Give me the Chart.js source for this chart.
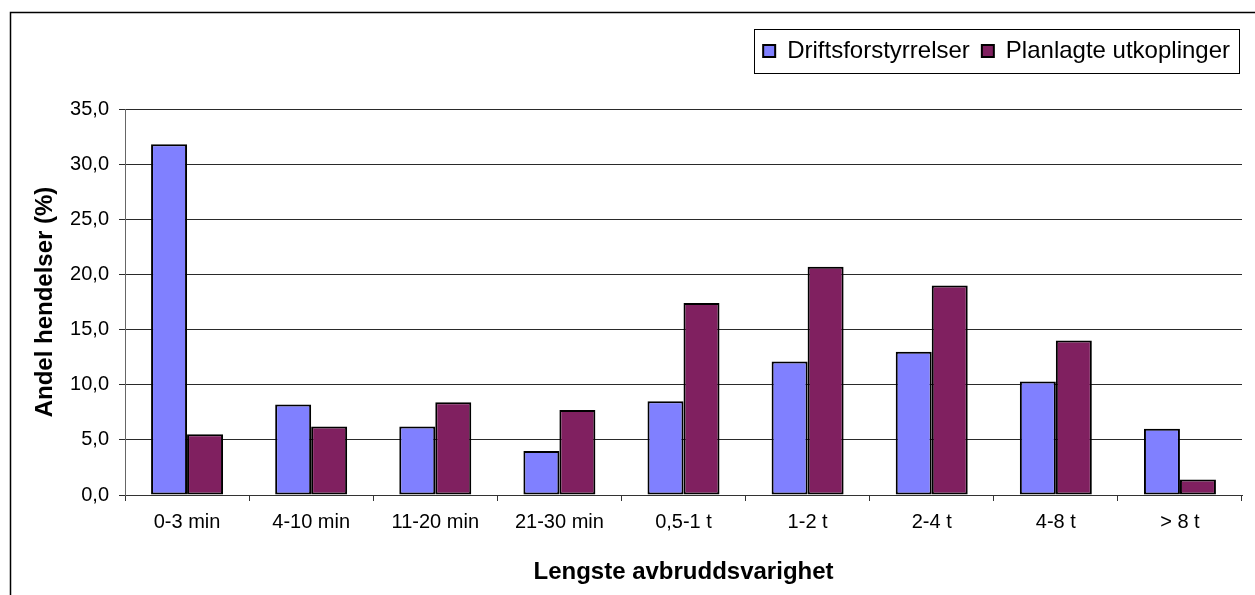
<!DOCTYPE html>
<html>
<head>
<meta charset="utf-8">
<script src="https://cdn.jsdelivr.net/npm/chart.js@4.4.1/dist/chart.umd.min.js"></script>
<style>
  html, body { margin: 0; padding: 0; background: #ffffff; }
  #wrap { width: 1255px; height: 595px; position: relative; }
</style>
</head>
<body>
<div id="wrap"><canvas id="c" width="1255" height="595"></canvas></div>
<script>
// ---- data ----
const categories = ['0-3 min', '4-10 min', '11-20 min', '21-30 min', '0,5-1 t', '1-2 t', '2-4 t', '4-8 t', '> 8 t'];
const driftsforstyrrelser = [31.8, 8.2, 6.2, 4.0, 8.5, 12.1, 13.0, 10.3, 6.0];
const planlagteUtkoplinger = [5.5, 6.2, 8.4, 7.7, 17.4, 20.7, 19.0, 14.0, 1.4];
const seriesNames = ['Driftsforstyrrelser', 'Planlagte utkoplinger'];
const yTickValues = [0, 5, 10, 15, 20, 25, 30, 35];
const xAxisTitle = 'Lengste avbruddsvarighet';
const yAxisTitle = 'Andel hendelser (%)';

const FONT = "'Liberation Sans', Arial, Helvetica, sans-serif";

// outer frame + white background + legend border
const framePlugin = {
  id: 'framePlugin',
  beforeLayout(chart) {
    const lg = chart.legend;
    if (lg && !lg._spacerPatched) {
      const origFit = lg.fit;
      lg.fit = function () {
        origFit.call(this);
        this.height += 36;
      };
      lg._spacerPatched = true;
    }
  },
  beforeDraw(chart) {
    const ctx = chart.ctx;
    ctx.save();
    ctx.fillStyle = '#ffffff';
    ctx.fillRect(0, 0, chart.width, chart.height);
    ctx.strokeStyle = '#000000';
    ctx.lineWidth = 1.5;
    ctx.strokeRect(10.5, 12.5, chart.width + 50, chart.height + 50);
    ctx.restore();
  },
  afterDraw(chart) {
    const lg = chart.legend;
    if (!lg || !lg.legendHitBoxes || !lg.legendHitBoxes.length) return;
    const hb = lg.legendHitBoxes;
    const first = hb[0], last = hb[hb.length - 1];
    const left = Math.round(first.left - 9) + 0.5;
    const right = Math.round(last.left + last.width + 9) + 0.5;
    const top = Math.round(first.top - 10) + 0.5;
    const bottom = Math.round(first.top + first.height + 10) + 0.5;
    const ctx = chart.ctx;
    ctx.save();
    ctx.strokeStyle = '#000000';
    ctx.lineWidth = 1;
    ctx.strokeRect(left, top, right - left, bottom - top);
    ctx.restore();
  }
};

new Chart(document.getElementById('c'), {
  type: 'bar',
  data: {
    labels: categories,
    datasets: [
      {
        label: seriesNames[0],
        data: driftsforstyrrelser,
        backgroundColor: '#8080FF',
        borderColor: '#000000',
        borderWidth: 2,
        borderSkipped: false
      },
      {
        label: seriesNames[1],
        data: planlagteUtkoplinger,
        backgroundColor: '#802060',
        borderColor: '#000000',
        borderWidth: 2,
        borderSkipped: false
      }
    ]
  },
  options: {
    responsive: false,
    animation: false,
    devicePixelRatio: 1,
    categoryPercentage: 0.58,
    barPercentage: 1.0,
    layout: { padding: { left: 20, right: 13, top: 27, bottom: 0 } },
    plugins: {
      legend: {
        display: true,
        position: 'top',
        align: 'end',
        labels: {
          boxWidth: 12,
          boxHeight: 12,
          padding: 12,
          color: '#000000',
          font: { family: FONT, size: 24 }
        }
      },
      title: { display: false },
      tooltip: { enabled: false }
    },
    scales: {
      x: {
        grid: {
          display: true,
          drawOnChartArea: false,
          drawTicks: true,
          tickLength: 6,
          color: '#333333',
          offset: true
        },
        border: { display: true, color: '#333333', width: 1 },
        ticks: {
          color: '#000000',
          padding: 9,
          maxRotation: 0,
          autoSkip: false,
          font: { family: FONT, size: 20 }
        },
        title: {
          display: true,
          text: xAxisTitle,
          color: '#000000',
          font: { family: FONT, size: 24, weight: 'bold' },
          padding: { top: 0, bottom: 8 }
        },
        afterFit(scale) { scale.height = 100; }
      },
      y: {
        min: 0,
        max: 35,
        afterBuildTicks(scale) {
          scale.ticks = yTickValues.map(v => ({ value: v }));
        },
        grid: {
          display: true,
          drawOnChartArea: true,
          drawTicks: true,
          tickLength: 6,
          color: '#2a2a2a',
          lineWidth: 1
        },
        border: { display: true, color: '#666666', width: 1 },
        ticks: {
          color: '#000000',
          padding: 10,
          font: { family: FONT, size: 20 },
          callback: (v) => Number(v).toFixed(1).replace('.', ',')
        },
        title: {
          display: true,
          text: yAxisTitle,
          color: '#000000',
          font: { family: FONT, size: 24, weight: 'bold' },
          padding: { top: 11, bottom: 0 }
        },
        afterFit(scale) { scale.width = 105; }
      }
    }
  },
  plugins: [framePlugin]
});
</script>
</body>
</html>
